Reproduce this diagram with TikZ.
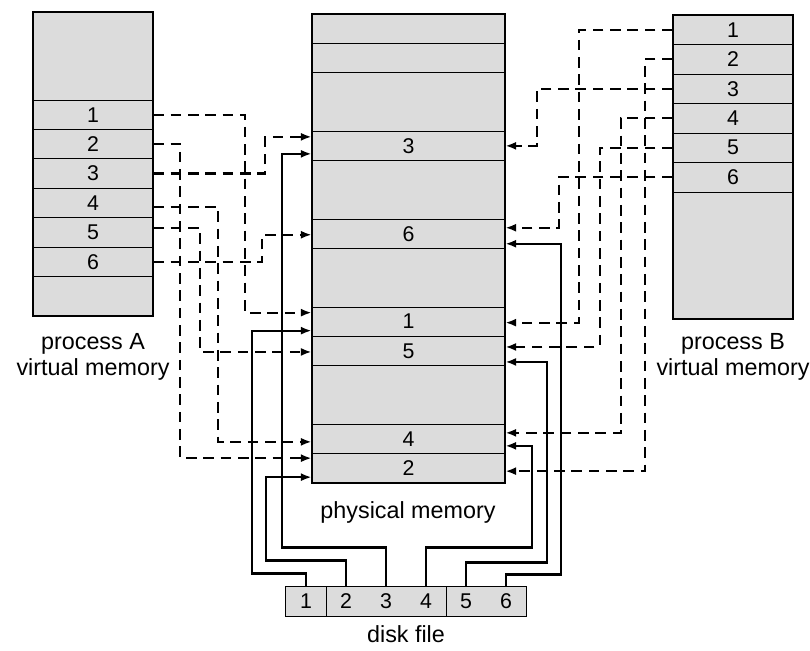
\documentclass[tikz,border=0pt]{standalone}
\usepackage{fontspec}
\setmainfont{Liberation Sans}
\usepackage{tikz}
\usetikzlibrary{arrows.meta, calc}
\definecolor{stipple}{RGB}{220,220,220}

\begin{document}
\begin{tikzpicture}[x=0.75pt, y=-0.75pt,
  every node/.style={font=\fontsize{17.5}{19}\selectfont, align=center},
  frame/.style={draw, line width=0.6pt, fill=stipple, inner sep=0pt, minimum height=22pt,
    font=\fontsize{16}{18}\selectfont},
  outline/.style={line width=0.9pt},
  vmap/.style={-{Latex[length=8pt,width=6pt]}, dash pattern=on 8pt off 5pt, line width=1.6pt},
  fmap/.style={-{Latex[length=8pt,width=6pt]}, line width=1.6pt}]
  \useasboundingbox (0,0) rectangle (810,650);

  % process A
  \fill[stipple] (33,12) rectangle (153,316);
  \foreach \i in {1,...,6}
    \node[frame, minimum width=90pt] (pa\i) at (93,{100+29.4*(\i-0.5)}) {\i};
  \draw[outline] (33,12) rectangle (153,316);
  \node (laba) at (93,357) {process A\\virtual memory};

  % physical memory
  \fill[stipple] (312,14) rectangle (505,483);
  \foreach \r in {1,2}
    \draw[line width=0.6pt] (312,{14+29.3*\r}) -- (505,{14+29.3*\r});
  \foreach \n/\r in {3/4, 6/7, 1/10, 5/11, 4/14, 2/15}
    \node[frame, minimum width=144.75pt] (pm\n) at (408.5,{14+29.3*(\r+0.5)}) {\n};
  \draw[outline] (312,14) rectangle (505,483);
  \node (labp) at (408,512) {physical memory};

  % process B
  \fill[stipple] (673,15) rectangle (793,319);
  \foreach \i in {1,...,6}
    \node[frame, minimum width=90pt] (pb\i) at (733,{15+29.5*(\i-0.5)}) {\i};
  \draw[outline] (673,15) rectangle (793,319);
  \node (labb) at (733,357) {process B\\virtual memory};

  % disk file
  \foreach \i in {1,...,6}
    \node[frame, draw=none, minimum width=30pt] (df\i) at ({266+40*\i},601.5) {\i};
  \draw[outline] (df1.north west) rectangle (df6.south east);
  \draw[line width=0.6pt] (df1.north east) -- (df1.south east);
  \draw[line width=0.6pt] (df4.north east) -- (df4.south east);
  \node (labd) at (406,634) {disk file};

  % process A -> physical
  \draw[vmap] (pa1.east) -- ++(92,0) |- ($(pm1.west)+(0,-9)$);
  \draw[vmap] (pa2.east) -- ++(27,0) |- ($(pm2.west)+(0,-10)$);
  \draw[vmap] (pa3.east) -- ++(112,0) |- ($(pm3.west)+(0,-9)$);
  \draw[vmap] ($(pa4.east)+(0,4)$) -- ++(65,0) |- ($(pm4.west)+(0,3)$);
  \draw[vmap] ($(pa5.east)+(0,-4)$) -- ++(47,0) |- ($(pm5.west)+(0,1)$);
  \draw[vmap] (pa6.east) -- ++(109,0) |- ($(pm6.west)+(0,1)$);

  % process B -> physical
  \draw[vmap] (pb1.west) -- ++(-94,0) |- ($(pm1.east)+(0,1)$);
  \draw[vmap] (pb2.west) -- ++(-28,0) |- ($(pm2.east)+(0,3)$);
  \draw[vmap] (pb3.west) -- ++(-136,0) |- (pm3.east);
  \draw[vmap] (pb4.west) -- ++(-52,0) |- ($(pm4.east)+(0,-6)$);
  \draw[vmap] (pb5.west) -- ++(-73,0) |- ($(pm5.east)+(0,-4)$);
  \draw[vmap] (pb6.west) -- ++(-114,0) |- ($(pm6.east)+(0,-6)$);

  % disk file -> physical
  \draw[fmap] (df1.north) -- ++(0,-13) -- ++(-54,0) |- ($(pm1.west)+(0,9)$);
  \draw[fmap] (df2.north) -- ++(0,-26) -- ++(-80,0) |- ($(pm2.west)+(0,9)$);
  \draw[fmap] (df3.north) -- ++(0,-39) -- ++(-104,0) |- ($(pm3.west)+(0,8)$);
  \draw[fmap] (df4.north) -- ++(0,-39) -- ++(106,0) |- ($(pm4.east)+(0,7)$);
  \draw[fmap] (df5.north) -- ++(0,-24) -- ++(81,0) |- ($(pm5.east)+(0,11)$);
  \draw[fmap] (df6.north) -- ++(0,-12) -- ++(55,0) |- ($(pm6.east)+(0,10)$);
\end{tikzpicture}
\end{document}
